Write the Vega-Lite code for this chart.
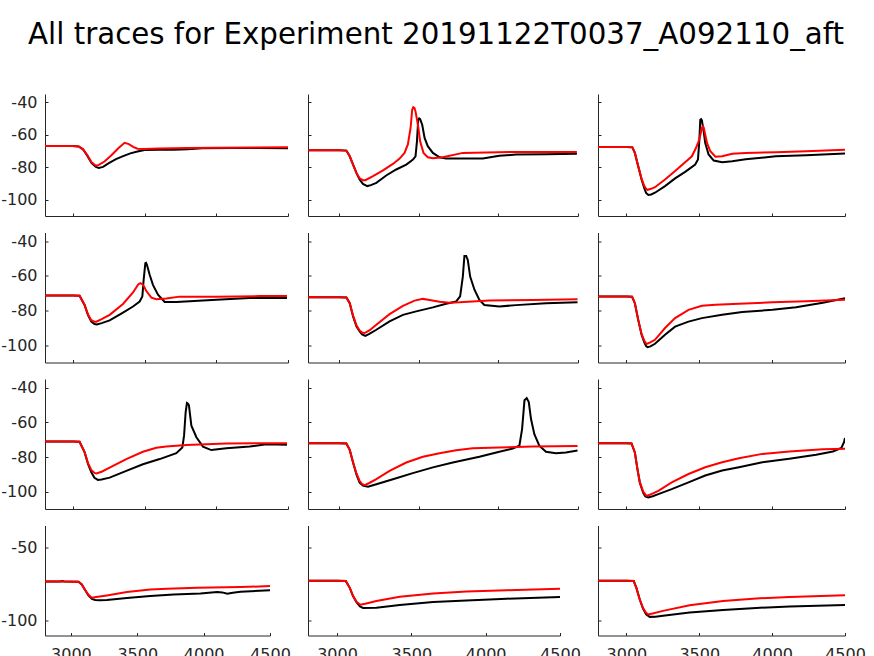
{
"$schema": "https://vega.github.io/schema/vega-lite/v6.json",
"padding": {"left": 0, "top": 20, "right": 0, "bottom": 0},
"title": {"text": "All traces for Experiment 20191122T0037_A092110_aft", "font": "DejaVu Sans", "fontSize": 29.3, "fontWeight": "normal", "color": "#000000", "anchor": "middle", "offset": 44, "dx": 3},
"data": {"values": [
{"p":1,"s":"k","t":2805,"v":-67},{"p":1,"s":"k","t":3000,"v":-67},{"p":1,"s":"k","t":3040,"v":-67.2},{"p":1,"s":"k","t":3070,"v":-69},{"p":1,"s":"k","t":3100,"v":-73},{"p":1,"s":"k","t":3130,"v":-77.5},{"p":1,"s":"k","t":3160,"v":-79.8},{"p":1,"s":"k","t":3180,"v":-80.4},{"p":1,"s":"k","t":3210,"v":-79.8},{"p":1,"s":"k","t":3250,"v":-77.5},{"p":1,"s":"k","t":3300,"v":-75},{"p":1,"s":"k","t":3350,"v":-73.2},{"p":1,"s":"k","t":3400,"v":-71.5},{"p":1,"s":"k","t":3450,"v":-70.3},{"p":1,"s":"k","t":3500,"v":-69.5},{"p":1,"s":"k","t":3600,"v":-69.2},{"p":1,"s":"k","t":3700,"v":-69.3},{"p":1,"s":"k","t":3800,"v":-69},{"p":1,"s":"k","t":3900,"v":-68.3},{"p":1,"s":"k","t":4100,"v":-68.2},{"p":1,"s":"k","t":4300,"v":-68.2},{"p":1,"s":"k","t":4500,"v":-68.3},
{"p":1,"s":"r","t":2805,"v":-67},{"p":1,"s":"r","t":3000,"v":-67},{"p":1,"s":"r","t":3040,"v":-67.2},{"p":1,"s":"r","t":3070,"v":-69},{"p":1,"s":"r","t":3100,"v":-72.5},{"p":1,"s":"r","t":3130,"v":-77},{"p":1,"s":"r","t":3160,"v":-79.1},{"p":1,"s":"r","t":3180,"v":-78.6},{"p":1,"s":"r","t":3220,"v":-76.5},{"p":1,"s":"r","t":3270,"v":-72.5},{"p":1,"s":"r","t":3320,"v":-68},{"p":1,"s":"r","t":3360,"v":-65},{"p":1,"s":"r","t":3390,"v":-65.8},{"p":1,"s":"r","t":3420,"v":-67.5},{"p":1,"s":"r","t":3450,"v":-68.6},{"p":1,"s":"r","t":3500,"v":-68.8},{"p":1,"s":"r","t":3600,"v":-68.5},{"p":1,"s":"r","t":3800,"v":-68.2},{"p":1,"s":"r","t":4000,"v":-68},{"p":1,"s":"r","t":4500,"v":-67.8},
{"p":2,"s":"k","t":2805,"v":-69.6},{"p":2,"s":"k","t":3000,"v":-69.6},{"p":2,"s":"k","t":3046,"v":-69.8},{"p":2,"s":"k","t":3067,"v":-73.3},{"p":2,"s":"k","t":3088,"v":-78.4},{"p":2,"s":"k","t":3109,"v":-83.5},{"p":2,"s":"k","t":3129,"v":-87.6},{"p":2,"s":"k","t":3150,"v":-90.3},{"p":2,"s":"k","t":3177,"v":-91.6},{"p":2,"s":"k","t":3200,"v":-91},{"p":2,"s":"k","t":3234,"v":-89.6},{"p":2,"s":"k","t":3296,"v":-85.1},{"p":2,"s":"k","t":3359,"v":-81.4},{"p":2,"s":"k","t":3422,"v":-78.4},{"p":2,"s":"k","t":3464,"v":-75.3},{"p":2,"s":"k","t":3480,"v":-73.3},{"p":2,"s":"k","t":3489,"v":-64.1},{"p":2,"s":"k","t":3497,"v":-50.8},{"p":2,"s":"k","t":3503,"v":-50},{"p":2,"s":"k","t":3509,"v":-50.4},{"p":2,"s":"k","t":3522,"v":-53.9},{"p":2,"s":"k","t":3537,"v":-62},{"p":2,"s":"k","t":3557,"v":-67.1},{"p":2,"s":"k","t":3589,"v":-71.2},{"p":2,"s":"k","t":3631,"v":-73.9},{"p":2,"s":"k","t":3672,"v":-74.7},{"p":2,"s":"k","t":3902,"v":-74.7},{"p":2,"s":"k","t":4006,"v":-73},{"p":2,"s":"k","t":4111,"v":-72.2},{"p":2,"s":"k","t":4300,"v":-72},{"p":2,"s":"k","t":4493,"v":-71.8},
{"p":2,"s":"r","t":2805,"v":-69.6},{"p":2,"s":"r","t":3000,"v":-69.6},{"p":2,"s":"r","t":3046,"v":-69.8},{"p":2,"s":"r","t":3067,"v":-73.3},{"p":2,"s":"r","t":3088,"v":-78.4},{"p":2,"s":"r","t":3109,"v":-83.5},{"p":2,"s":"r","t":3129,"v":-86.8},{"p":2,"s":"r","t":3150,"v":-88},{"p":2,"s":"r","t":3165,"v":-88},{"p":2,"s":"r","t":3213,"v":-85.5},{"p":2,"s":"r","t":3276,"v":-82},{"p":2,"s":"r","t":3338,"v":-78},{"p":2,"s":"r","t":3380,"v":-74.7},{"p":2,"s":"r","t":3411,"v":-71.2},{"p":2,"s":"r","t":3432,"v":-66},{"p":2,"s":"r","t":3449,"v":-55.9},{"p":2,"s":"r","t":3459,"v":-44.7},{"p":2,"s":"r","t":3466,"v":-43.1},{"p":2,"s":"r","t":3473,"v":-43.5},{"p":2,"s":"r","t":3480,"v":-45.7},{"p":2,"s":"r","t":3495,"v":-53.9},{"p":2,"s":"r","t":3509,"v":-64.1},{"p":2,"s":"r","t":3530,"v":-71.2},{"p":2,"s":"r","t":3557,"v":-73.9},{"p":2,"s":"r","t":3589,"v":-74.5},{"p":2,"s":"r","t":3651,"v":-73.9},{"p":2,"s":"r","t":3777,"v":-71.2},{"p":2,"s":"r","t":4111,"v":-70.6},{"p":2,"s":"r","t":4493,"v":-70.6},
{"p":3,"s":"k","t":2805,"v":-67.6},{"p":3,"s":"k","t":3000,"v":-67.6},{"p":3,"s":"k","t":3041,"v":-67.8},{"p":3,"s":"k","t":3058,"v":-71.2},{"p":3,"s":"k","t":3081,"v":-79.4},{"p":3,"s":"k","t":3104,"v":-87.6},{"p":3,"s":"k","t":3122,"v":-92.7},{"p":3,"s":"k","t":3135,"v":-95.8},{"p":3,"s":"k","t":3150,"v":-97.1},{"p":3,"s":"k","t":3170,"v":-96.8},{"p":3,"s":"k","t":3196,"v":-95.7},{"p":3,"s":"k","t":3265,"v":-91.6},{"p":3,"s":"k","t":3334,"v":-86.9},{"p":3,"s":"k","t":3403,"v":-82.9},{"p":3,"s":"k","t":3472,"v":-78.4},{"p":3,"s":"k","t":3491,"v":-75.3},{"p":3,"s":"k","t":3500,"v":-64.1},{"p":3,"s":"k","t":3507,"v":-50.8},{"p":3,"s":"k","t":3512,"v":-50.5},{"p":3,"s":"k","t":3518,"v":-51.2},{"p":3,"s":"k","t":3530,"v":-58},{"p":3,"s":"k","t":3541,"v":-65.1},{"p":3,"s":"k","t":3564,"v":-72.2},{"p":3,"s":"k","t":3599,"v":-75.9},{"p":3,"s":"k","t":3657,"v":-76.9},{"p":3,"s":"k","t":3726,"v":-76.3},{"p":3,"s":"k","t":3818,"v":-75.1},{"p":3,"s":"k","t":4025,"v":-73.3},{"p":3,"s":"k","t":4233,"v":-72.7},{"p":3,"s":"k","t":4500,"v":-71.6},
{"p":3,"s":"r","t":2805,"v":-67.6},{"p":3,"s":"r","t":3000,"v":-67.6},{"p":3,"s":"r","t":3041,"v":-67.8},{"p":3,"s":"r","t":3058,"v":-71.2},{"p":3,"s":"r","t":3081,"v":-79.4},{"p":3,"s":"r","t":3104,"v":-87},{"p":3,"s":"r","t":3122,"v":-91.5},{"p":3,"s":"r","t":3135,"v":-93.3},{"p":3,"s":"r","t":3145,"v":-93.9},{"p":3,"s":"r","t":3170,"v":-93.3},{"p":3,"s":"r","t":3196,"v":-92.3},{"p":3,"s":"r","t":3265,"v":-87.6},{"p":3,"s":"r","t":3334,"v":-82.4},{"p":3,"s":"r","t":3403,"v":-76.9},{"p":3,"s":"r","t":3449,"v":-73.3},{"p":3,"s":"r","t":3477,"v":-68.2},{"p":3,"s":"r","t":3500,"v":-63.1},{"p":3,"s":"r","t":3518,"v":-55.9},{"p":3,"s":"r","t":3524,"v":-55},{"p":3,"s":"r","t":3530,"v":-55.5},{"p":3,"s":"r","t":3541,"v":-60},{"p":3,"s":"r","t":3553,"v":-65.1},{"p":3,"s":"r","t":3576,"v":-70.2},{"p":3,"s":"r","t":3611,"v":-73.5},{"p":3,"s":"r","t":3657,"v":-73.3},{"p":3,"s":"r","t":3726,"v":-71.8},{"p":3,"s":"r","t":3818,"v":-71.2},{"p":3,"s":"r","t":4025,"v":-70.8},{"p":3,"s":"r","t":4233,"v":-70.2},{"p":3,"s":"r","t":4500,"v":-69.2},
{"p":4,"s":"k","t":2805,"v":-71.3},{"p":4,"s":"k","t":3000,"v":-71.3},{"p":4,"s":"k","t":3046,"v":-71.5},{"p":4,"s":"k","t":3081,"v":-76.8},{"p":4,"s":"k","t":3105,"v":-82.6},{"p":4,"s":"k","t":3128,"v":-86.4},{"p":4,"s":"k","t":3150,"v":-87.8},{"p":4,"s":"k","t":3167,"v":-88},{"p":4,"s":"k","t":3200,"v":-87.3},{"p":4,"s":"k","t":3256,"v":-85.7},{"p":4,"s":"k","t":3349,"v":-81.2},{"p":4,"s":"k","t":3419,"v":-77.7},{"p":4,"s":"k","t":3465,"v":-74.8},{"p":4,"s":"k","t":3484,"v":-71.9},{"p":4,"s":"k","t":3493,"v":-62.3},{"p":4,"s":"k","t":3505,"v":-52.7},{"p":4,"s":"k","t":3510,"v":-52.5},{"p":4,"s":"k","t":3516,"v":-53.6},{"p":4,"s":"k","t":3535,"v":-59.4},{"p":4,"s":"k","t":3558,"v":-65.2},{"p":4,"s":"k","t":3593,"v":-70.9},{"p":4,"s":"k","t":3640,"v":-75.1},{"p":4,"s":"k","t":3721,"v":-75.1},{"p":4,"s":"k","t":3814,"v":-74.7},{"p":4,"s":"k","t":4000,"v":-73.8},{"p":4,"s":"k","t":4233,"v":-72.8},{"p":4,"s":"k","t":4493,"v":-72.8},
{"p":4,"s":"r","t":2805,"v":-71.3},{"p":4,"s":"r","t":3000,"v":-71.3},{"p":4,"s":"r","t":3046,"v":-71.5},{"p":4,"s":"r","t":3081,"v":-76.8},{"p":4,"s":"r","t":3105,"v":-82.3},{"p":4,"s":"r","t":3128,"v":-85.6},{"p":4,"s":"r","t":3150,"v":-86.5},{"p":4,"s":"r","t":3163,"v":-86.5},{"p":4,"s":"r","t":3200,"v":-85},{"p":4,"s":"r","t":3256,"v":-82.5},{"p":4,"s":"r","t":3349,"v":-76.2},{"p":4,"s":"r","t":3419,"v":-69.6},{"p":4,"s":"r","t":3455,"v":-65},{"p":4,"s":"r","t":3470,"v":-64.2},{"p":4,"s":"r","t":3484,"v":-64.8},{"p":4,"s":"r","t":3498,"v":-66.5},{"p":4,"s":"r","t":3512,"v":-68.8},{"p":4,"s":"r","t":3547,"v":-72.6},{"p":4,"s":"r","t":3582,"v":-73.5},{"p":4,"s":"r","t":3651,"v":-73.1},{"p":4,"s":"r","t":3744,"v":-72},{"p":4,"s":"r","t":4000,"v":-72},{"p":4,"s":"r","t":4303,"v":-71.7},{"p":4,"s":"r","t":4493,"v":-71.7},
{"p":5,"s":"k","t":2805,"v":-72.3},{"p":5,"s":"k","t":3000,"v":-72.3},{"p":5,"s":"k","t":3046,"v":-72.5},{"p":5,"s":"k","t":3067,"v":-75.8},{"p":5,"s":"k","t":3088,"v":-83.4},{"p":5,"s":"k","t":3109,"v":-89.1},{"p":5,"s":"k","t":3129,"v":-92},{"p":5,"s":"k","t":3145,"v":-93.8},{"p":5,"s":"k","t":3165,"v":-94.6},{"p":5,"s":"k","t":3190,"v":-93.5},{"p":5,"s":"k","t":3234,"v":-91.1},{"p":5,"s":"k","t":3317,"v":-86.3},{"p":5,"s":"k","t":3401,"v":-82.5},{"p":5,"s":"k","t":3484,"v":-80.5},{"p":5,"s":"k","t":3589,"v":-78.2},{"p":5,"s":"k","t":3672,"v":-76.1},{"p":5,"s":"k","t":3735,"v":-74.8},{"p":5,"s":"k","t":3760,"v":-71.9},{"p":5,"s":"k","t":3777,"v":-60.4},{"p":5,"s":"k","t":3787,"v":-48.5},{"p":5,"s":"k","t":3798,"v":-48.5},{"p":5,"s":"k","t":3808,"v":-50.8},{"p":5,"s":"k","t":3823,"v":-60.4},{"p":5,"s":"k","t":3850,"v":-68},{"p":5,"s":"k","t":3881,"v":-73.9},{"p":5,"s":"k","t":3912,"v":-76.8},{"p":5,"s":"k","t":4006,"v":-77.7},{"p":5,"s":"k","t":4111,"v":-76.9},{"p":5,"s":"k","t":4299,"v":-75.8},{"p":5,"s":"k","t":4497,"v":-75.2},
{"p":5,"s":"r","t":2805,"v":-72.3},{"p":5,"s":"r","t":3000,"v":-72.3},{"p":5,"s":"r","t":3046,"v":-72.5},{"p":5,"s":"r","t":3067,"v":-75.8},{"p":5,"s":"r","t":3088,"v":-83},{"p":5,"s":"r","t":3109,"v":-88.5},{"p":5,"s":"r","t":3129,"v":-91.5},{"p":5,"s":"r","t":3145,"v":-92.7},{"p":5,"s":"r","t":3161,"v":-93},{"p":5,"s":"r","t":3190,"v":-91.5},{"p":5,"s":"r","t":3234,"v":-88.2},{"p":5,"s":"r","t":3317,"v":-82.1},{"p":5,"s":"r","t":3401,"v":-77.3},{"p":5,"s":"r","t":3474,"v":-74.3},{"p":5,"s":"r","t":3526,"v":-73.3},{"p":5,"s":"r","t":3568,"v":-73.9},{"p":5,"s":"r","t":3631,"v":-74.9},{"p":5,"s":"r","t":3693,"v":-75.5},{"p":5,"s":"r","t":3756,"v":-75.3},{"p":5,"s":"r","t":3944,"v":-74.3},{"p":5,"s":"r","t":4215,"v":-73.9},{"p":5,"s":"r","t":4497,"v":-73.5},
{"p":6,"s":"k","t":2805,"v":-71.9},{"p":6,"s":"k","t":3000,"v":-71.9},{"p":6,"s":"k","t":3039,"v":-72.1},{"p":6,"s":"k","t":3058,"v":-75.8},{"p":6,"s":"k","t":3081,"v":-85.4},{"p":6,"s":"k","t":3104,"v":-94},{"p":6,"s":"k","t":3122,"v":-98.3},{"p":6,"s":"k","t":3135,"v":-100.5},{"p":6,"s":"k","t":3145,"v":-101.2},{"p":6,"s":"k","t":3165,"v":-100.7},{"p":6,"s":"k","t":3196,"v":-99.2},{"p":6,"s":"k","t":3265,"v":-94},{"p":6,"s":"k","t":3334,"v":-89.3},{"p":6,"s":"k","t":3426,"v":-86.4},{"p":6,"s":"k","t":3518,"v":-84.4},{"p":6,"s":"k","t":3657,"v":-82.5},{"p":6,"s":"k","t":3795,"v":-80.8},{"p":6,"s":"k","t":4002,"v":-79.6},{"p":6,"s":"k","t":4164,"v":-78.1},{"p":6,"s":"k","t":4348,"v":-75.5},{"p":6,"s":"k","t":4500,"v":-72.9},
{"p":6,"s":"r","t":2805,"v":-71.9},{"p":6,"s":"r","t":3000,"v":-71.9},{"p":6,"s":"r","t":3039,"v":-72.1},{"p":6,"s":"r","t":3058,"v":-75.8},{"p":6,"s":"r","t":3081,"v":-85.4},{"p":6,"s":"r","t":3104,"v":-93.5},{"p":6,"s":"r","t":3122,"v":-97.3},{"p":6,"s":"r","t":3138,"v":-99.3},{"p":6,"s":"r","t":3160,"v":-98.5},{"p":6,"s":"r","t":3196,"v":-96.9},{"p":6,"s":"r","t":3265,"v":-90.1},{"p":6,"s":"r","t":3334,"v":-84.4},{"p":6,"s":"r","t":3426,"v":-79.6},{"p":6,"s":"r","t":3518,"v":-77.3},{"p":6,"s":"r","t":3611,"v":-76.7},{"p":6,"s":"r","t":3772,"v":-76.1},{"p":6,"s":"r","t":4002,"v":-75.3},{"p":6,"s":"r","t":4233,"v":-74.7},{"p":6,"s":"r","t":4500,"v":-73.8},
{"p":7,"s":"k","t":2805,"v":-71},{"p":7,"s":"k","t":3000,"v":-71},{"p":7,"s":"k","t":3046,"v":-71.2},{"p":7,"s":"k","t":3081,"v":-77.2},{"p":7,"s":"k","t":3105,"v":-84},{"p":7,"s":"k","t":3128,"v":-88.8},{"p":7,"s":"k","t":3150,"v":-92},{"p":7,"s":"k","t":3174,"v":-93.2},{"p":7,"s":"k","t":3200,"v":-93},{"p":7,"s":"k","t":3256,"v":-91.9},{"p":7,"s":"k","t":3372,"v":-88},{"p":7,"s":"k","t":3488,"v":-84.2},{"p":7,"s":"k","t":3605,"v":-81.2},{"p":7,"s":"k","t":3721,"v":-77.8},{"p":7,"s":"k","t":3763,"v":-74.5},{"p":7,"s":"k","t":3775,"v":-67.7},{"p":7,"s":"k","t":3786,"v":-54.2},{"p":7,"s":"k","t":3795,"v":-48.9},{"p":7,"s":"k","t":3802,"v":-49.3},{"p":7,"s":"k","t":3809,"v":-50.2},{"p":7,"s":"k","t":3826,"v":-61.9},{"p":7,"s":"k","t":3861,"v":-68.6},{"p":7,"s":"k","t":3907,"v":-74},{"p":7,"s":"k","t":3965,"v":-76},{"p":7,"s":"k","t":4070,"v":-75},{"p":7,"s":"k","t":4233,"v":-73.9},{"p":7,"s":"k","t":4349,"v":-72.7},{"p":7,"s":"k","t":4493,"v":-72.9},
{"p":7,"s":"r","t":2805,"v":-71},{"p":7,"s":"r","t":3000,"v":-71},{"p":7,"s":"r","t":3046,"v":-71.2},{"p":7,"s":"r","t":3081,"v":-77.2},{"p":7,"s":"r","t":3105,"v":-83.5},{"p":7,"s":"r","t":3128,"v":-87.5},{"p":7,"s":"r","t":3150,"v":-89.2},{"p":7,"s":"r","t":3163,"v":-89.5},{"p":7,"s":"r","t":3200,"v":-88.5},{"p":7,"s":"r","t":3256,"v":-86.1},{"p":7,"s":"r","t":3372,"v":-81.2},{"p":7,"s":"r","t":3488,"v":-77},{"p":7,"s":"r","t":3581,"v":-74.7},{"p":7,"s":"r","t":3651,"v":-73.9},{"p":7,"s":"r","t":3791,"v":-73.1},{"p":7,"s":"r","t":4070,"v":-72.2},{"p":7,"s":"r","t":4493,"v":-72},
{"p":8,"s":"k","t":2805,"v":-72},{"p":8,"s":"k","t":3000,"v":-72},{"p":8,"s":"k","t":3046,"v":-72.2},{"p":8,"s":"k","t":3067,"v":-75.9},{"p":8,"s":"k","t":3088,"v":-83.2},{"p":8,"s":"k","t":3109,"v":-90},{"p":8,"s":"k","t":3129,"v":-94.8},{"p":8,"s":"k","t":3150,"v":-96.5},{"p":8,"s":"k","t":3182,"v":-97.2},{"p":8,"s":"k","t":3234,"v":-95.7},{"p":8,"s":"k","t":3338,"v":-92.8},{"p":8,"s":"k","t":3463,"v":-89.3},{"p":8,"s":"k","t":3589,"v":-86},{"p":8,"s":"k","t":3714,"v":-83.2},{"p":8,"s":"k","t":3881,"v":-79.9},{"p":8,"s":"k","t":4006,"v":-77},{"p":8,"s":"k","t":4090,"v":-75.1},{"p":8,"s":"k","t":4132,"v":-73.5},{"p":8,"s":"k","t":4149,"v":-63.9},{"p":8,"s":"k","t":4164,"v":-47.3},{"p":8,"s":"k","t":4178,"v":-46},{"p":8,"s":"k","t":4191,"v":-48.3},{"p":8,"s":"k","t":4205,"v":-58.1},{"p":8,"s":"k","t":4226,"v":-66.8},{"p":8,"s":"k","t":4257,"v":-73.5},{"p":8,"s":"k","t":4299,"v":-77},{"p":8,"s":"k","t":4361,"v":-77.8},{"p":8,"s":"k","t":4424,"v":-77.4},{"p":8,"s":"k","t":4497,"v":-76.2},
{"p":8,"s":"r","t":2805,"v":-72},{"p":8,"s":"r","t":3000,"v":-72},{"p":8,"s":"r","t":3046,"v":-72.2},{"p":8,"s":"r","t":3067,"v":-75.9},{"p":8,"s":"r","t":3088,"v":-83.2},{"p":8,"s":"r","t":3109,"v":-89.5},{"p":8,"s":"r","t":3129,"v":-93.8},{"p":8,"s":"r","t":3145,"v":-95.6},{"p":8,"s":"r","t":3161,"v":-96.3},{"p":8,"s":"r","t":3190,"v":-95},{"p":8,"s":"r","t":3234,"v":-92.8},{"p":8,"s":"r","t":3317,"v":-88},{"p":8,"s":"r","t":3422,"v":-83.2},{"p":8,"s":"r","t":3526,"v":-79.9},{"p":8,"s":"r","t":3631,"v":-77.8},{"p":8,"s":"r","t":3735,"v":-76.1},{"p":8,"s":"r","t":3839,"v":-74.9},{"p":8,"s":"r","t":4006,"v":-74.5},{"p":8,"s":"r","t":4215,"v":-73.9},{"p":8,"s":"r","t":4497,"v":-73.7},
{"p":9,"s":"k","t":2805,"v":-72},{"p":9,"s":"k","t":3000,"v":-72},{"p":9,"s":"k","t":3035,"v":-72.2},{"p":9,"s":"k","t":3058,"v":-77.4},{"p":9,"s":"k","t":3076,"v":-87.1},{"p":9,"s":"k","t":3092,"v":-94.8},{"p":9,"s":"k","t":3115,"v":-100.6},{"p":9,"s":"k","t":3130,"v":-102.7},{"p":9,"s":"k","t":3150,"v":-103.3},{"p":9,"s":"k","t":3180,"v":-102.6},{"p":9,"s":"k","t":3219,"v":-101.4},{"p":9,"s":"k","t":3311,"v":-98.5},{"p":9,"s":"k","t":3426,"v":-94.6},{"p":9,"s":"k","t":3541,"v":-90.7},{"p":9,"s":"k","t":3657,"v":-87.8},{"p":9,"s":"k","t":3772,"v":-85.9},{"p":9,"s":"k","t":3933,"v":-83},{"p":9,"s":"k","t":4118,"v":-81},{"p":9,"s":"k","t":4302,"v":-78.7},{"p":9,"s":"k","t":4417,"v":-76.8},{"p":9,"s":"k","t":4475,"v":-74.8},{"p":9,"s":"k","t":4493,"v":-71.4},{"p":9,"s":"k","t":4500,"v":-69},
{"p":9,"s":"r","t":2805,"v":-72},{"p":9,"s":"r","t":3000,"v":-72},{"p":9,"s":"r","t":3035,"v":-72.2},{"p":9,"s":"r","t":3058,"v":-77.4},{"p":9,"s":"r","t":3076,"v":-87.1},{"p":9,"s":"r","t":3092,"v":-94.5},{"p":9,"s":"r","t":3115,"v":-100},{"p":9,"s":"r","t":3138,"v":-102.4},{"p":9,"s":"r","t":3160,"v":-101.8},{"p":9,"s":"r","t":3219,"v":-99.5},{"p":9,"s":"r","t":3311,"v":-94.6},{"p":9,"s":"r","t":3426,"v":-89.8},{"p":9,"s":"r","t":3541,"v":-85.9},{"p":9,"s":"r","t":3657,"v":-83},{"p":9,"s":"r","t":3772,"v":-80.7},{"p":9,"s":"r","t":3933,"v":-78.2},{"p":9,"s":"r","t":4118,"v":-76.8},{"p":9,"s":"r","t":4348,"v":-75.6},{"p":9,"s":"r","t":4500,"v":-75.2},
{"p":10,"s":"k","t":2805,"v":-73.2},{"p":10,"s":"k","t":2920,"v":-73.2},{"p":10,"s":"k","t":2935,"v":-72.9},{"p":10,"s":"k","t":2950,"v":-73.2},{"p":10,"s":"k","t":3057,"v":-73.4},{"p":10,"s":"k","t":3082,"v":-75.2},{"p":10,"s":"k","t":3107,"v":-79},{"p":10,"s":"k","t":3132,"v":-82.6},{"p":10,"s":"k","t":3158,"v":-85},{"p":10,"s":"k","t":3183,"v":-85.8},{"p":10,"s":"k","t":3220,"v":-85.9},{"p":10,"s":"k","t":3271,"v":-85.8},{"p":10,"s":"k","t":3422,"v":-84.5},{"p":10,"s":"k","t":3598,"v":-83.1},{"p":10,"s":"k","t":3775,"v":-82},{"p":10,"s":"k","t":3976,"v":-81.4},{"p":10,"s":"k","t":4102,"v":-80.4},{"p":10,"s":"k","t":4140,"v":-80.6},{"p":10,"s":"k","t":4178,"v":-81.5},{"p":10,"s":"k","t":4220,"v":-80.8},{"p":10,"s":"k","t":4278,"v":-80.2},{"p":10,"s":"k","t":4500,"v":-79.1},
{"p":10,"s":"r","t":2805,"v":-73.2},{"p":10,"s":"r","t":3000,"v":-73.2},{"p":10,"s":"r","t":3057,"v":-73.4},{"p":10,"s":"r","t":3082,"v":-75.2},{"p":10,"s":"r","t":3107,"v":-79},{"p":10,"s":"r","t":3132,"v":-82.3},{"p":10,"s":"r","t":3158,"v":-84.2},{"p":10,"s":"r","t":3190,"v":-83.8},{"p":10,"s":"r","t":3271,"v":-82.7},{"p":10,"s":"r","t":3422,"v":-80.4},{"p":10,"s":"r","t":3598,"v":-78.6},{"p":10,"s":"r","t":3724,"v":-78.2},{"p":10,"s":"r","t":3951,"v":-77.5},{"p":10,"s":"r","t":4278,"v":-77},{"p":10,"s":"r","t":4500,"v":-76.3},
{"p":11,"s":"k","t":2805,"v":-72.7},{"p":11,"s":"k","t":3000,"v":-72.7},{"p":11,"s":"k","t":3059,"v":-72.9},{"p":11,"s":"k","t":3086,"v":-77.5},{"p":11,"s":"k","t":3108,"v":-83.1},{"p":11,"s":"k","t":3131,"v":-87.2},{"p":11,"s":"k","t":3155,"v":-90.2},{"p":11,"s":"k","t":3175,"v":-91.2},{"p":11,"s":"k","t":3265,"v":-91},{"p":11,"s":"k","t":3422,"v":-89.2},{"p":11,"s":"k","t":3647,"v":-87.2},{"p":11,"s":"k","t":3871,"v":-86.1},{"p":11,"s":"k","t":4141,"v":-84.9},{"p":11,"s":"k","t":4500,"v":-83.8},
{"p":11,"s":"r","t":2805,"v":-72.7},{"p":11,"s":"r","t":3000,"v":-72.7},{"p":11,"s":"r","t":3059,"v":-72.9},{"p":11,"s":"r","t":3086,"v":-77.5},{"p":11,"s":"r","t":3108,"v":-83.1},{"p":11,"s":"r","t":3131,"v":-87},{"p":11,"s":"r","t":3157,"v":-89},{"p":11,"s":"r","t":3190,"v":-88.3},{"p":11,"s":"r","t":3265,"v":-86.5},{"p":11,"s":"r","t":3422,"v":-83.6},{"p":11,"s":"r","t":3647,"v":-81.3},{"p":11,"s":"r","t":3871,"v":-80},{"p":11,"s":"r","t":4141,"v":-79.1},{"p":11,"s":"r","t":4500,"v":-78.2},
{"p":12,"s":"k","t":2805,"v":-72.7},{"p":12,"s":"k","t":3000,"v":-72.7},{"p":12,"s":"k","t":3050,"v":-72.9},{"p":12,"s":"k","t":3068,"v":-77.4},{"p":12,"s":"k","t":3091,"v":-85.3},{"p":12,"s":"k","t":3114,"v":-91.6},{"p":12,"s":"k","t":3135,"v":-95.6},{"p":12,"s":"k","t":3160,"v":-97.3},{"p":12,"s":"k","t":3200,"v":-97.2},{"p":12,"s":"k","t":3251,"v":-96.6},{"p":12,"s":"k","t":3434,"v":-94.4},{"p":12,"s":"k","t":3663,"v":-92.6},{"p":12,"s":"k","t":3891,"v":-91.2},{"p":12,"s":"k","t":4120,"v":-90.3},{"p":12,"s":"k","t":4500,"v":-89.2},
{"p":12,"s":"r","t":2805,"v":-72.7},{"p":12,"s":"r","t":3000,"v":-72.7},{"p":12,"s":"r","t":3050,"v":-72.9},{"p":12,"s":"r","t":3068,"v":-77.4},{"p":12,"s":"r","t":3091,"v":-85.3},{"p":12,"s":"r","t":3114,"v":-91.3},{"p":12,"s":"r","t":3135,"v":-94.5},{"p":12,"s":"r","t":3148,"v":-95.7},{"p":12,"s":"r","t":3180,"v":-95},{"p":12,"s":"r","t":3251,"v":-93.2},{"p":12,"s":"r","t":3434,"v":-89.4},{"p":12,"s":"r","t":3663,"v":-86.5},{"p":12,"s":"r","t":3891,"v":-84.7},{"p":12,"s":"r","t":4120,"v":-83.8},{"p":12,"s":"r","t":4500,"v":-82.6}
]},
"spacing": 15.5,
"vconcat": [
{"bounds": "flush", "spacing": 20, "hconcat": [
{"width":243,"height":122,"transform":[{"filter":"datum.p==1"}],"mark":{"type":"line","clip":true},"encoding":{"x":{"field":"t","type":"quantitative","scale":{"domain":[2805,4500],"nice":false,"zero":false},"axis":{"values":[3000,3500,4000,4500],"labels":false}},"y":{"field":"v","type":"quantitative","scale":{"domain":[-110,-35],"nice":false,"zero":false},"axis":{"values":[-100,-80,-60,-40],"labelExpr":"''+datum.value"}},"color":{"field":"s","type":"nominal","scale":{"domain":["k","r"],"range":["#000000","#ff0000"]},"legend":null}}},
{"width":270,"height":122,"transform":[{"filter":"datum.p==2"}],"mark":{"type":"line","clip":true},"encoding":{"x":{"field":"t","type":"quantitative","scale":{"domain":[2805,4500],"nice":false,"zero":false},"axis":{"values":[3000,3500,4000,4500],"labels":false}},"y":{"field":"v","type":"quantitative","scale":{"domain":[-110,-35],"nice":false,"zero":false},"axis":{"values":[-100,-80,-60,-40],"labels":false}},"color":{"field":"s","type":"nominal","scale":{"domain":["k","r"],"range":["#000000","#ff0000"]},"legend":null}}},
{"width":247,"height":122,"transform":[{"filter":"datum.p==3"}],"mark":{"type":"line","clip":true},"encoding":{"x":{"field":"t","type":"quantitative","scale":{"domain":[2805,4500],"nice":false,"zero":false},"axis":{"values":[3000,3500,4000,4500],"labels":false}},"y":{"field":"v","type":"quantitative","scale":{"domain":[-110,-35],"nice":false,"zero":false},"axis":{"values":[-100,-80,-60,-40],"labels":false}},"color":{"field":"s","type":"nominal","scale":{"domain":["k","r"],"range":["#000000","#ff0000"]},"legend":null}}}
]},
{"bounds": "flush", "spacing": 20, "hconcat": [
{"width":243,"height":130,"transform":[{"filter":"datum.p==4"}],"mark":{"type":"line","clip":true},"encoding":{"x":{"field":"t","type":"quantitative","scale":{"domain":[2805,4500],"nice":false,"zero":false},"axis":{"values":[3000,3500,4000,4500],"labels":false}},"y":{"field":"v","type":"quantitative","scale":{"domain":[-110,-35],"nice":false,"zero":false},"axis":{"values":[-100,-80,-60,-40],"labelExpr":"''+datum.value"}},"color":{"field":"s","type":"nominal","scale":{"domain":["k","r"],"range":["#000000","#ff0000"]},"legend":null}}},
{"width":270,"height":130,"transform":[{"filter":"datum.p==5"}],"mark":{"type":"line","clip":true},"encoding":{"x":{"field":"t","type":"quantitative","scale":{"domain":[2805,4500],"nice":false,"zero":false},"axis":{"values":[3000,3500,4000,4500],"labels":false}},"y":{"field":"v","type":"quantitative","scale":{"domain":[-110,-35],"nice":false,"zero":false},"axis":{"values":[-100,-80,-60,-40],"labels":false}},"color":{"field":"s","type":"nominal","scale":{"domain":["k","r"],"range":["#000000","#ff0000"]},"legend":null}}},
{"width":247,"height":130,"transform":[{"filter":"datum.p==6"}],"mark":{"type":"line","clip":true},"encoding":{"x":{"field":"t","type":"quantitative","scale":{"domain":[2805,4500],"nice":false,"zero":false},"axis":{"values":[3000,3500,4000,4500],"labels":false}},"y":{"field":"v","type":"quantitative","scale":{"domain":[-110,-35],"nice":false,"zero":false},"axis":{"values":[-100,-80,-60,-40],"labels":false}},"color":{"field":"s","type":"nominal","scale":{"domain":["k","r"],"range":["#000000","#ff0000"]},"legend":null}}}
]},
{"bounds": "flush", "spacing": 20, "hconcat": [
{"width":243,"height":130,"transform":[{"filter":"datum.p==7"}],"mark":{"type":"line","clip":true},"encoding":{"x":{"field":"t","type":"quantitative","scale":{"domain":[2805,4500],"nice":false,"zero":false},"axis":{"values":[3000,3500,4000,4500],"labels":false}},"y":{"field":"v","type":"quantitative","scale":{"domain":[-110,-35],"nice":false,"zero":false},"axis":{"values":[-100,-80,-60,-40],"labelExpr":"''+datum.value"}},"color":{"field":"s","type":"nominal","scale":{"domain":["k","r"],"range":["#000000","#ff0000"]},"legend":null}}},
{"width":270,"height":130,"transform":[{"filter":"datum.p==8"}],"mark":{"type":"line","clip":true},"encoding":{"x":{"field":"t","type":"quantitative","scale":{"domain":[2805,4500],"nice":false,"zero":false},"axis":{"values":[3000,3500,4000,4500],"labels":false}},"y":{"field":"v","type":"quantitative","scale":{"domain":[-110,-35],"nice":false,"zero":false},"axis":{"values":[-100,-80,-60,-40],"labels":false}},"color":{"field":"s","type":"nominal","scale":{"domain":["k","r"],"range":["#000000","#ff0000"]},"legend":null}}},
{"width":247,"height":130,"transform":[{"filter":"datum.p==9"}],"mark":{"type":"line","clip":true},"encoding":{"x":{"field":"t","type":"quantitative","scale":{"domain":[2805,4500],"nice":false,"zero":false},"axis":{"values":[3000,3500,4000,4500],"labels":false}},"y":{"field":"v","type":"quantitative","scale":{"domain":[-110,-35],"nice":false,"zero":false},"axis":{"values":[-100,-80,-60,-40],"labels":false}},"color":{"field":"s","type":"nominal","scale":{"domain":["k","r"],"range":["#000000","#ff0000"]},"legend":null}}}
]},
{"bounds": "flush", "spacing": 38, "hconcat": [
{"width":225,"height":110,"transform":[{"filter":"datum.p==10"}],"mark":{"type":"line","clip":true},"encoding":{"x":{"field":"t","type":"quantitative","scale":{"domain":[2805,4500],"nice":false,"zero":false},"axis":{"values":[3000,3500,4000,4500],"labelExpr":"''+datum.value"}},"y":{"field":"v","type":"quantitative","scale":{"domain":[-110,-35],"nice":false,"zero":false},"axis":{"values":[-100,-50],"labelExpr":"''+datum.value"}},"color":{"field":"s","type":"nominal","scale":{"domain":["k","r"],"range":["#000000","#ff0000"]},"legend":null}}},
{"width":252,"height":110,"transform":[{"filter":"datum.p==11"}],"mark":{"type":"line","clip":true},"encoding":{"x":{"field":"t","type":"quantitative","scale":{"domain":[2805,4500],"nice":false,"zero":false},"axis":{"values":[3000,3500,4000,4500],"labelExpr":"''+datum.value"}},"y":{"field":"v","type":"quantitative","scale":{"domain":[-110,-35],"nice":false,"zero":false},"axis":{"values":[-100,-50],"labels":false}},"color":{"field":"s","type":"nominal","scale":{"domain":["k","r"],"range":["#000000","#ff0000"]},"legend":null}}},
{"width":247,"height":110,"transform":[{"filter":"datum.p==12"}],"mark":{"type":"line","clip":true},"encoding":{"x":{"field":"t","type":"quantitative","scale":{"domain":[2805,4500],"nice":false,"zero":false},"axis":{"values":[3000,3500,4000,4500],"labelExpr":"''+datum.value"}},"y":{"field":"v","type":"quantitative","scale":{"domain":[-110,-35],"nice":false,"zero":false},"axis":{"values":[-100,-50],"labels":false}},"color":{"field":"s","type":"nominal","scale":{"domain":["k","r"],"range":["#000000","#ff0000"]},"legend":null}}}
]}
],
"config": {
"view": {"stroke": null},
"axis": {"grid": false, "title": null, "domainColor": "#262626", "domainWidth": 1, "tickColor": "#262626", "tickSize": -3, "tickWidth": 1, "labelColor": "#262626", "labelFont": "DejaVu Sans", "labelFontSize": 16, "labelFlush": false, "labelOverlap": false},
"axisY": {"labelPadding": 11},
"axisX": {"labelPadding": 14},
"line": {"strokeWidth": 2}
}
}
